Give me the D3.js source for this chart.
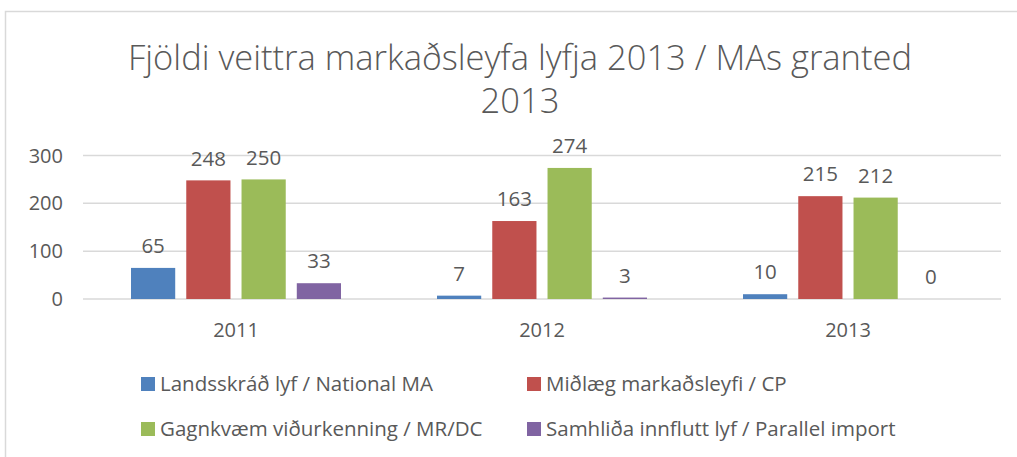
<!DOCTYPE html>
<html lang="is">
<head>
<meta charset="UTF-8">
<title>MAs granted 2013</title>
<style>
  body { margin: 0; background: #fff; font-family: "Open Sans", Roboto, Arial, sans-serif; }
  svg text { fill: #595959; }
</style>
</head>
<body>
<svg width="1017" height="457"></svg>
<script src="https://d3js.org/d3.v7.min.js"></script>
<script>
// chart data
let years = ["2011", "2012", "2013"];
let seriesNames = [
  "Landsskráð lyf / National MA",
  "Miðlæg markaðsleyfi / CP",
  "Gagnkvæm viðurkenning / MR/DC",
  "Samhliða innflutt lyf / Parallel import"
];
let national = [65, 7, 10];
let central = [248, 163, 215];
let mutual = [250, 274, 212];
let parallel = [33, 3, 0];
let yTicks = [0, 100, 200, 300];
let colors = ["#4F81BD", "#C0504D", "#9BBB59", "#8064A2"];

let values = [national, central, mutual, parallel];
let svg = d3.select("svg");

// chart area frame
svg.append("rect")
    .attr("x", 5.5).attr("y", 11.5)
    .attr("width", 1100).attr("height", 500)
    .attr("fill", "none").attr("stroke", "#D9D9D9").attr("stroke-width", 1.5);

// title
let title = svg.append("text")
    .attr("text-anchor", "middle")
    .attr("font-weight", 300)
    .style("font-size", "34.5px");
title.append("tspan").attr("x", 520).attr("y", 70).text("Fjöldi veittra markaðsleyfa lyfja 2013 / MAs granted");
title.append("tspan").attr("x", 520).attr("y", 113).text("2013");

let x = d3.scaleBand().domain(years).range([83, 1001]);
let xInner = d3.scaleBand().domain(d3.range(4)).range([48, 306 - 48]).paddingInner(0.2);
let y = d3.scaleLinear().domain([0, 300]).range([299, 155.5]);

// gridlines
svg.append("g").selectAll("line").data(yTicks).enter().append("line")
    .attr("x1", 83).attr("x2", 1001)
    .attr("y1", d => y(d)).attr("y2", d => y(d))
    .attr("stroke", "#D9D9D9").attr("stroke-width", 1.5);

// y axis labels
svg.append("g").selectAll("text").data(yTicks).enter().append("text")
    .attr("x", 63).attr("y", d => y(d))
    .attr("dy", "0.35em").attr("text-anchor", "end")
    .style("font-size", "20px")
    .text(d => d);

// x axis labels
svg.append("g").selectAll("text").data(years).enter().append("text")
    .attr("x", d => x(d) + x.bandwidth() / 2).attr("y", 330)
    .attr("dy", "0.35em").attr("text-anchor", "middle")
    .style("font-size", "20px")
    .text(d => d);

// bars + labels
let groups = svg.append("g").selectAll("g").data(values).enter().append("g");
groups.each(function(vals, s) {
  let g = d3.select(this);
  g.selectAll("rect").data(vals).enter().append("rect")
      .attr("x", (d, i) => x(years[i]) + xInner(s))
      .attr("width", xInner.bandwidth())
      .attr("y", d => y(d))
      .attr("height", d => y(0) - y(d))
      .attr("fill", colors[s]);
  g.selectAll("text").data(vals).enter().append("text")
      .attr("x", (d, i) => x(years[i]) + xInner(s) + xInner.bandwidth() / 2)
      .attr("y", d => y(d) - 22)
      .attr("dy", "0.35em").attr("text-anchor", "middle")
      .style("font-size", "20.5px")
      .text(d => d);
});

// legend
let legendPos = [[141, 384], [527, 384], [141, 429], [527, 429]];
let legend = svg.append("g").selectAll("g").data(seriesNames).enter().append("g")
    .attr("transform", (d, i) => "translate(" + legendPos[i][0] + "," + legendPos[i][1] + ")");
legend.append("rect")
    .attr("x", 0).attr("y", -7).attr("width", 14).attr("height", 14)
    .attr("fill", (d, i) => colors[i]);
legend.append("text")
    .attr("x", 19).attr("dy", "0.35em")
    .style("font-size", "20.5px")
    .text(d => d);
</script>
</body>
</html>
